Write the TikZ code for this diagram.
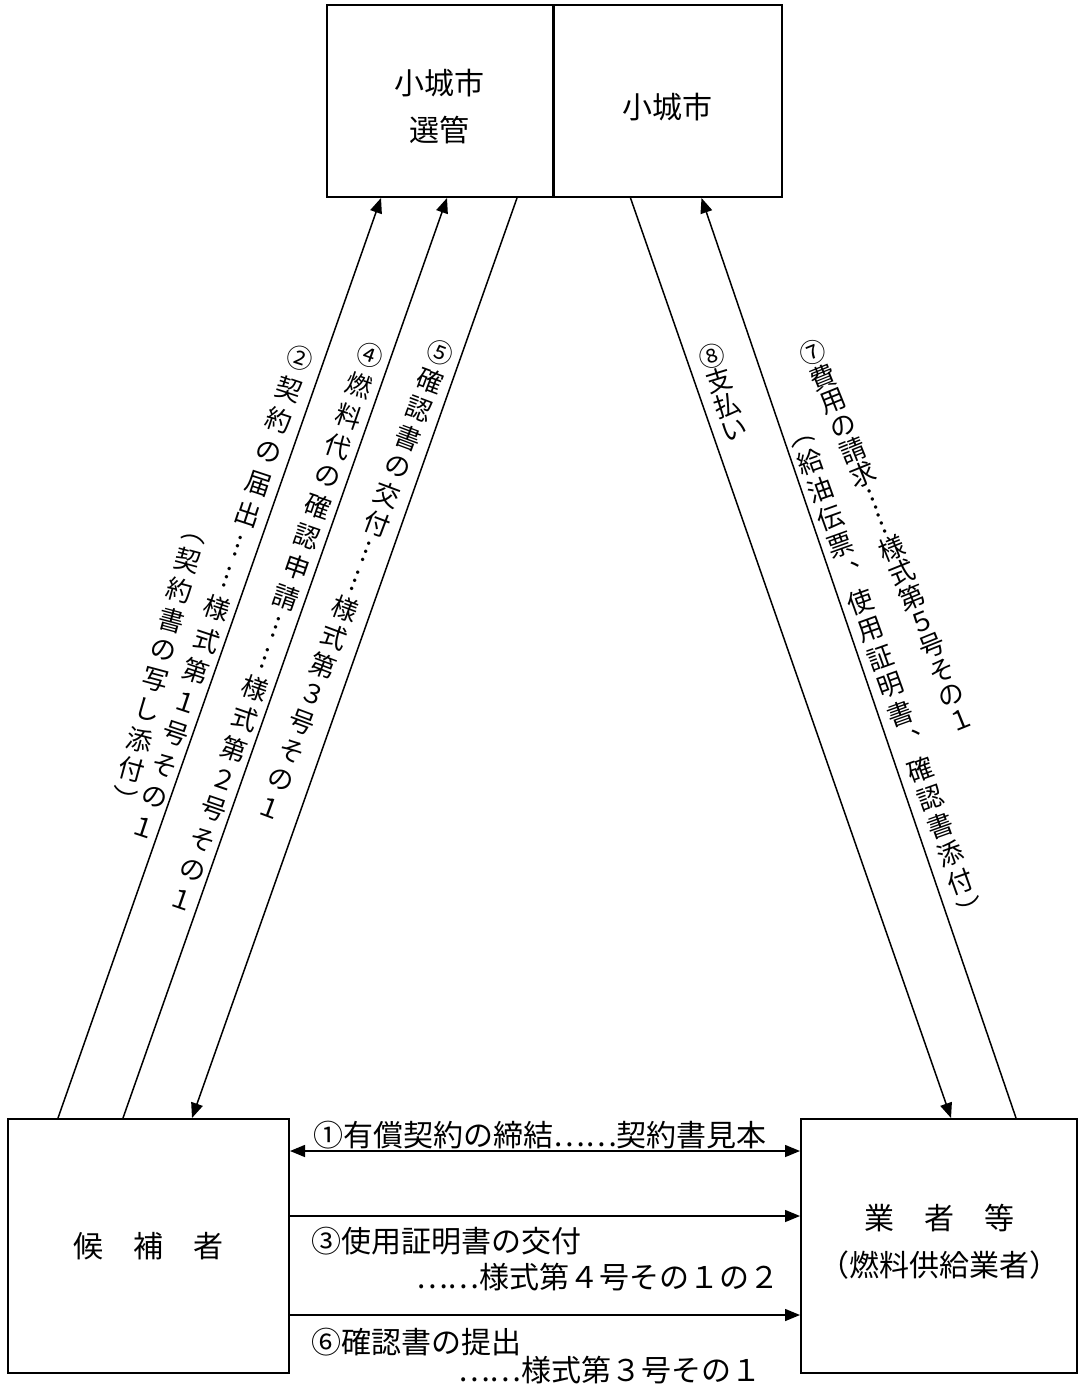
\documentclass[tikz,border=0pt]{standalone}
\usepackage{graphicx}
\usepackage{fontspec}
\setmainfont{Noto Sans CJK JP}
\usetikzlibrary{calc,arrows.meta}

% brackets turned for vertical setting
\newcommand\vlp{\rotatebox[origin=c]{-90}{（}}
\newcommand\vrp{\rotatebox[origin=c]{-90}{）}}

% one column of upright characters, read top to bottom
\ExplSyntaxOn
\NewDocumentCommand \tatecol { O{16pt} m }
  {
    \vbox
      {
        \offinterlineskip
        \tl_map_inline:nn {#2}
          { \hbox_to_wd:nn {14pt} { \hss \vbox_to_ht:nn {#1} { \vss \hbox{##1} \vss } \hss } }
      }
  }
\ExplSyntaxOff

\begin{document}
\begin{tikzpicture}[x=0.5pt,y=-0.5pt]
\useasboundingbox (0,0) rectangle (1079,1384);
\tikzset{>={Triangle[length=7.5pt,width=6pt]}}
\tikzstyle{box}=[draw, line width=1pt, inner sep=0pt, align=center, font=\fontsize{15}{23.5}\selectfont]
\tikzstyle{boxtext}=[align=center, font=\fontsize{15}{23.5}\selectfont]
\tikzstyle{flow}=[line width=0.75pt]
\tikzstyle{tate}=[inner sep=0pt, anchor=north, font=\fontsize{13}{13}\selectfont]
\tikzstyle{yoko}=[inner sep=0pt, font=\fontsize{15}{15}\selectfont]
% boxes
\node[box, minimum width=112.75pt, minimum height=96pt, label={[boxtext, yshift=-3pt]center:小城市\\選管}] (sel) at (439.75,101) {};
\node[box, minimum width=114.25pt, minimum height=96pt, label={[boxtext, yshift=-3pt]center:小城市}] (city) at (667.75,101) {};
\node[box, minimum width=140.5pt, minimum height=127pt] (cand) at (148.5,1246) {候　補　者};
\node[box, minimum width=138pt, minimum height=127pt, label={[boxtext, yshift=2pt]center:業　者　等\\（燃料供給業者）}] (vendor) at (939,1246) {};
% slanted connectors
\draw[flow, ->] ($(cand.north west)+(51,0)$) -- ($(sel.south west)+(55,0)$);
\draw[flow, ->] ($(cand.north west)+(116,0)$) -- ($(sel.south west)+(121,0)$);
\draw[flow, ->] ($(sel.south west)+(191,0)$) -- ($(cand.north west)+(185,0)$);
\draw[flow, ->] ($(city.south west)+(78,0)$) -- ($(vendor.north west)+(151,0)$);
\draw[flow, ->] ($(vendor.north west)+(216,0)$) -- ($(city.south west)+(149,0)$);
% level connectors
\draw[flow, <->] ($(cand.north east)+(0,33)$) -- ($(vendor.north west)+(0,33)$);
\draw[flow, ->] ($(cand.north east)+(0,98)$) -- ($(vendor.north west)+(0,98)$);
\draw[flow, ->] ($(cand.north east)+(0,197)$) -- ($(vendor.north west)+(0,197)$);
% level labels
\node[yoko] (l1) at (540,1135) {①有償契約の締結……契約書見本};
\node[yoko, anchor=west] (l3a) at (311,1241) {③使用証明書の交付};
\node[yoko, anchor=east] (l3b) at (780,1277) {……様式第４号その１の２};
\node[yoko, anchor=west] (l6a) at (311,1342) {⑥確認書の提出};
\node[yoko, anchor=east] (l6b) at (762,1370) {……様式第３号その１};
% slanted labels
\node[tate, rotate=-18.3] (l2a) at (305,342) {\tatecol[16.5pt]{②契約の届出︙︙様式第１号その１}};
\node[tate, rotate=-15] (l2b) at (200,515) {\tatecol[15.5pt]{\vlp 契約書の写し添付\vrp}};
\node[tate, rotate=-19] (l4) at (375,340) {\tatecol[16pt]{④燃料代の確認申請︙︙様式第２号その１}};
\node[tate, rotate=-20.5] (l5) at (446,338) {\tatecol[15.2pt]{⑤確認書の交付︙︙様式第３号その１}};
\node[tate, rotate=17] (l8) at (708,343) {\tatecol[13pt]{⑧支払い}};
\node[tate, rotate=22] (l7a) at (808,340) {\tatecol[13.2pt]{⑦費用の請求︙︙様式第５号その１}};
\node[tate, rotate=19.7] (l7b) at (795,419) {\tatecol[14.9pt]{\vlp 給油伝票︑使用証明書︑確認書添付\vrp}};
\end{tikzpicture}
\end{document}
